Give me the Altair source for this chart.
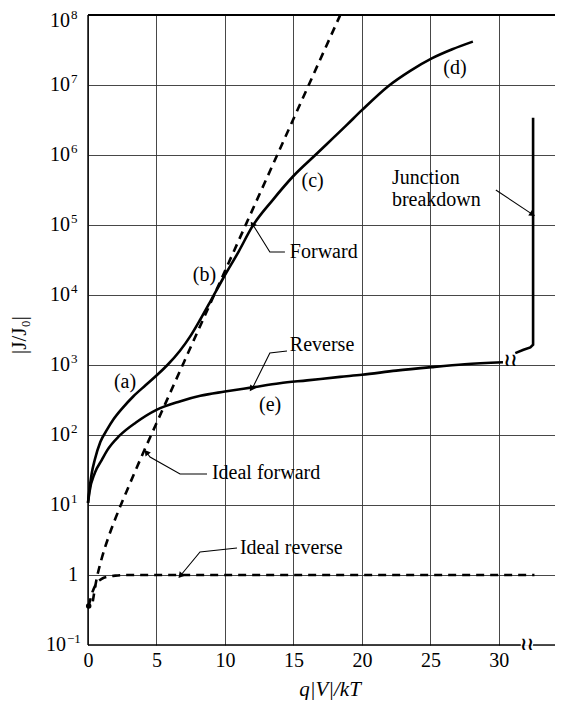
import altair as alt
import pandas as pd

X_MAX = 34.1
SERIF = "Liberation Serif"

fwd_x = [0.0, 0.08, 0.27, 0.5, 0.9, 1.4, 1.85, 2.5, 3.3, 4.2, 5.0, 5.8, 6.7, 7.5, 8.2,
         9.0, 9.9, 11.0, 12.0, 13.5, 15.0, 16.6, 18.9, 20.0, 21.9, 23.5, 25.1, 26.6, 28.1]
fwd_j = [10.7, 15.1, 28.2, 44.7, 79.4, 120, 166, 240, 355, 513, 708, 1000, 1585, 2630, 4467,
         8511, 17783, 41687, 95499, 229000, 501187, 1.0e6, 2.69e6, 4.37e6, 9.55e6, 1.58e7,
         2.4e7, 3.24e7, 4.17e7]

rev_x = [0.0, 0.1, 0.5, 1.0, 1.4, 2.3, 3.5, 5.0, 6.7, 8.2, 10.0, 12.0, 14.0, 16.0, 18.4,
         20.0, 22.5, 25.1, 27.5, 30.3]
rev_j = [10.7, 15.1, 28.8, 43.7, 60.3, 97.7, 151, 229, 302, 363, 417, 479, 550, 603, 676,
         724, 832, 933, 1023, 1096]

brk_x = [31.2, 31.8, 32.3, 32.5, 32.5]
brk_j = [1480, 1650, 1780, 1950, 3.4e6]

ifwd_x = [0.35, 0.6, 1.0, 1.5, 2.0, 3.0, 4.0, 5.0, 6.0, 8.0, 10.0, 12.0, 14.0, 16.0, 18.4]
ifwd_j = [0.42, 0.82, 1.72, 3.5, 6.4, 19, 54, 147, 400, 2980, 22000, 1.63e5, 1.2e6, 8.9e6, 9.8e7]

irev_x = [0.05, 0.3, 0.6, 1.0, 1.5, 2.0, 3.0, 10.0, 20.0, 32.6]
irev_j = [0.36, 0.55, 0.75, 0.88, 0.95, 0.98, 1.0, 1.0, 1.0, 1.0]

decades = [0.1, 1, 10, 100, 1e3, 1e4, 1e5, 1e6, 1e7, 1e8]
exponents = ["\u22121", "", "1", "2", "3", "4", "5", "6", "7", "8"]
x_ticks = [0, 5, 10, 15, 20, 25, 30]

# curve labels
lab_text = ["(a)", "(b)", "(c)", "(d)", "(e)"]
lab_x = [2.7, 8.5, 16.4, 26.8, 13.3]
lab_j = [575, 19500, 4.27e5, 1.74e7, 269]

# annotation texts
ann_text = ["Forward", "Reverse", "Junction", "breakdown", "Ideal forward", "Ideal reverse"]
ann_x = [14.74, 14.74, 22.19, 22.19, 9.05, 11.09]
ann_j = [40700, 1930, 4.77e5, 2.31e5, 28.6, 2.43]

# leader lines (id, x, J) ending at arrow tip
lead_id = ["f", "f", "f", "f", "r", "r", "r", "r", "j", "j", "if", "if", "if", "if", "ir", "ir", "ir"]
lead_x = [14.38, 13.28, 12.19, 12.04, 14.53, 13.28, 12.12, 11.97, 29.78, 32.4,
          8.69, 6.72, 4.53, 4.31, 10.88, 8.18, 6.79]
lead_j = [41100, 41100, 90600, 1e5, 1585, 1483, 518, 469, 3.16e5, 1.44e5,
          27.7, 27.7, 48.5, 55.3, 2.43, 2.13, 1.0]
tip_x = [12.04, 11.97, 32.4, 4.31, 6.79]
tip_j = [1e5, 469, 1.44e5, 55.3, 1.0]
tip_angle = [326, 214, 124, 323, 220]

# ---------------- tables ----------------
curves = pd.concat([
    pd.DataFrame({"x": fwd_x, "j": fwd_j, "s": "forward"}),
    pd.DataFrame({"x": rev_x, "j": rev_j, "s": "reverse"}),
])
curves["o"] = range(len(curves))
brk = pd.DataFrame({"x": brk_x, "j": brk_j})
brk["o"] = range(len(brk))
ideal = pd.concat([
    pd.DataFrame({"x": ifwd_x, "j": ifwd_j, "s": "ifwd"}),
    pd.DataFrame({"x": irev_x, "j": irev_j, "s": "irev"}),
])
ideal["o"] = range(len(ideal))

xs = alt.Scale(domain=[0, X_MAX], nice=False, zero=False)
ys = alt.Scale(type="log", domain=[0.1, 1e8], nice=False)

base_x = alt.X("x:Q", scale=xs,
               axis=alt.Axis(values=x_ticks, grid=True, gridColor="#333", gridWidth=0.9,
                             domain=False, ticks=False, labelFont=SERIF, labelFontSize=20,
                             labelColor="black", labelPadding=5, title=None, labelFlush=False))
base_y = alt.Y("j:Q", scale=ys,
               axis=alt.Axis(values=decades[1:], grid=True, gridColor="#333", gridWidth=0.9,
                             domain=False, ticks=False, labels=False, title=None))

solid = alt.Chart(curves).mark_line(color="black", strokeWidth=2.6, interpolate="monotone").encode(
    x=base_x, y=base_y, detail="s:N", order="o:Q")

brk_line = alt.Chart(brk).mark_line(color="black", strokeWidth=2.6).encode(
    x="x:Q", y="j:Q", order="o:Q")

dashed = alt.Chart(ideal).mark_line(color="black", strokeWidth=2.6, strokeDash=[8, 6],
                                    interpolate="monotone").encode(
    x="x:Q", y="j:Q", detail="s:N", order="o:Q")

dot = alt.Chart(pd.DataFrame({"x": [irev_x[0]], "j": [irev_j[0]]})).mark_point(
    filled=True, color="black", size=30, opacity=1).encode(x="x:Q", y="j:Q")

# frame: left line, bottom line with break, thick top line
frame = pd.DataFrame({"x": [0, 0, 32.5, 0], "x2": [0, 31.6, X_MAX, X_MAX],
                      "j": [0.1, 0.1, 0.1, 1e8], "j2": [1e8, 0.1, 0.1, 1e8],
                      "w": [1.4, 1.4, 1.4, 2.2]})
frame_rules = alt.Chart(frame).mark_rule(color="black").encode(
    x="x:Q", x2="x2:Q", y="j:Q", y2="j2:Q",
    strokeWidth=alt.StrokeWidth("w:Q", scale=None, legend=None))

squig = alt.Chart(pd.DataFrame({"x": [30.85, 32.05], "j": [1150, 0.1], "t": ["\u2240\u2240", "\u2240\u2240"]})).mark_text(
    font="DejaVu Sans", fontSize=18, color="black", fontWeight="bold").encode(
    x="x:Q", y="j:Q", text="t:N")

# curve labels
labels = alt.Chart(pd.DataFrame({"x": lab_x, "j": lab_j, "t": lab_text})).mark_text(
    font=SERIF, fontSize=20, color="black").encode(x="x:Q", y="j:Q", text="t:N")

anns = alt.Chart(pd.DataFrame({"x": ann_x, "j": ann_j, "t": ann_text})).mark_text(
    font=SERIF, fontSize=20, color="black", align="left", baseline="middle").encode(
    x="x:Q", y="j:Q", text="t:N")

lead_df = pd.DataFrame({"id": lead_id, "x": lead_x, "j": lead_j})
lead_df["o"] = range(len(lead_df))
leaders = alt.Chart(lead_df).mark_line(color="black", strokeWidth=1.1).encode(
    x="x:Q", y="j:Q", detail="id:N", order="o:Q")

tips = alt.Chart(pd.DataFrame({"x": tip_x, "j": tip_j, "a": tip_angle})).mark_point(
    shape="triangle", filled=True, color="black", size=45, opacity=1).encode(
    x="x:Q", y="j:Q", angle=alt.Angle("a:Q", scale=None))

# y tick labels: "10" plus raised exponent
ylab = pd.DataFrame({"j": decades, "e": exponents})
ylab["base"] = ["10" if e else "1" for e in exponents]
ylab["bx"] = [-22 if e.startswith("\u2212") else (-18 if e else -10) for e in exponents]
ylab["ex"] = [-21 if e.startswith("\u2212") else -17 for e in exponents]
ylab_main = ylab[ylab["j"] < 1e8]
ylab_top = ylab[ylab["j"] >= 1e8]

def ylabel_layers(df, dy):
    b = alt.Chart(df).mark_text(font=SERIF, fontSize=20, color="black", align="right",
                                baseline="middle", dy=dy).encode(
        x=alt.X("bx:Q", scale=None), y="j:Q", text="base:N")
    e = alt.Chart(df).mark_text(font=SERIF, fontSize=13, color="black", align="left",
                                baseline="middle", dy=dy - 6).encode(
        x=alt.X("ex:Q", scale=None), y="j:Q", text="e:N")
    return [b, e]

ylabels = ylabel_layers(ylab_main, 0) + ylabel_layers(ylab_top, 6)

xtitle = alt.Chart(pd.DataFrame({"t": ["q|V|/kT"]})).mark_text(
    font=SERIF, fontSize=21, fontStyle="italic", color="black", baseline="middle").encode(
    x=alt.value(242), y=alt.value(675), text="t:N")
ytitle = alt.Chart(pd.DataFrame({"t": ["|J/J\u2080|"]})).mark_text(
    font=SERIF, fontSize=21, color="black", angle=270, baseline="middle").encode(
    x=alt.value(-68), y=alt.value(320), text="t:N")

chart = alt.layer(
    solid, brk_line, dashed, dot, frame_rules, squig, labels, anns, leaders, tips,
    *ylabels, xtitle, ytitle
).properties(
    width=467, height=630,
    padding={"left": 80, "top": 7, "right": 0, "bottom": 55},
    autosize=alt.AutoSizeParams(type="none"),
).configure_view(strokeWidth=0).configure(background="white")

chart.save("out.html", embed_options={"renderer": "svg", "actions": False})
